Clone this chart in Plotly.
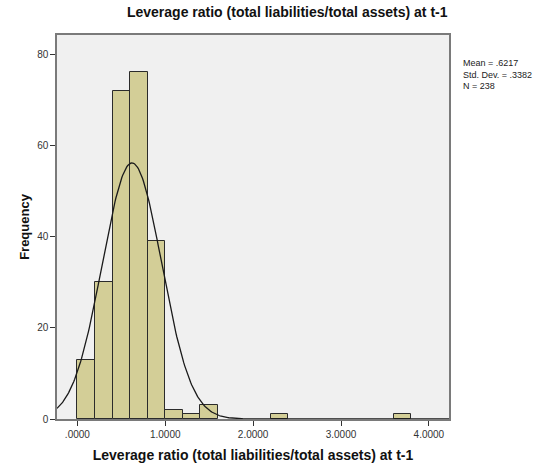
import numpy as np
import plotly.graph_objects as go

# Histogram bins (width 0.2) and their frequencies
bin_starts = [0.0, 0.2, 0.4, 0.6, 0.8, 1.0, 1.2, 1.4, 2.2, 3.6]
counts = [13, 30, 72, 76, 39, 2, 1, 3, 1, 1]
bin_width = 0.2

# Summary statistics
mean_val = 0.6217
std_val = 0.3382
n_obs = 238

x_ticks = [0, 1, 2, 3, 4]
x_tick_labels = [".0000", "1.0000", "2.0000", "3.0000", "4.0000"]
y_ticks = [0, 20, 40, 60, 80]

title_text = "Leverage ratio (total liabilities/total assets) at t-1"
font_family = "Arial, Liberation Sans, sans-serif"

x_range = [-0.232, 4.229]
y_range = [0, 84.2]

centers = [s + bin_width / 2 for s in bin_starts]

# Normal curve scaled to the histogram
xs = np.linspace(x_range[0], x_range[1], 400)
ys = n_obs * bin_width / (std_val * np.sqrt(2 * np.pi)) * np.exp(-0.5 * ((xs - mean_val) / std_val) ** 2)

fig = go.Figure()
fig.add_trace(go.Bar(
    x=centers, y=counts, width=bin_width,
    marker=dict(color="#D3CE97", line=dict(color="#2b2b2b", width=1)),
    hoverinfo="skip",
))
fig.add_trace(go.Scatter(
    x=xs, y=ys, mode="lines",
    line=dict(color="#1a1a1a", width=1.3),
    hoverinfo="skip",
))

fig.update_layout(
    width=544, height=463,
    margin=dict(l=57, r=95, t=35, b=44),
    paper_bgcolor="white",
    plot_bgcolor="#F0F0F0",
    showlegend=False,
    bargap=0,
    font=dict(family=font_family, color="#222222"),
    title=dict(
        text="<b>" + title_text + "</b>",
        xref="container", x=0.528, xanchor="center", y=0.974, yanchor="middle",
        font=dict(size=14, family=font_family, color="#111111"),
    ),
    xaxis=dict(
        range=x_range, tickvals=x_ticks, ticktext=x_tick_labels,
        showgrid=False, zeroline=False, automargin=False,
        showline=True, mirror=True, linecolor="#7a7a7a", linewidth=1.5,
        ticks="outside", ticklen=5, tickcolor="#333333",
        tickfont=dict(size=10, color="#333333"),
        title=dict(text="<b>" + title_text + "</b>",
                   font=dict(size=14, color="#111111"), standoff=14),
    ),
    yaxis=dict(
        range=y_range, tickvals=y_ticks,
        showgrid=False, zeroline=False, automargin=False,
        showline=True, mirror=True, linecolor="#7a7a7a", linewidth=1.5,
        ticks="outside", ticklen=5, tickcolor="#333333",
        tickfont=dict(size=10, color="#333333"),
        title=dict(text="<b>Frequency</b>",
                   font=dict(size=13, color="#111111"), standoff=5),
    ),
)

fig.add_annotation(
    xref="paper", yref="paper", x=1.03, y=0.945,
    xanchor="left", yanchor="top", align="left", showarrow=False,
    text=f"Mean = {str(mean_val)[1:]}<br>Std. Dev. = {str(std_val)[1:]}<br>N = {n_obs}",
    font=dict(size=9, color="#222222"),
)

fig.write_html("out.html")
